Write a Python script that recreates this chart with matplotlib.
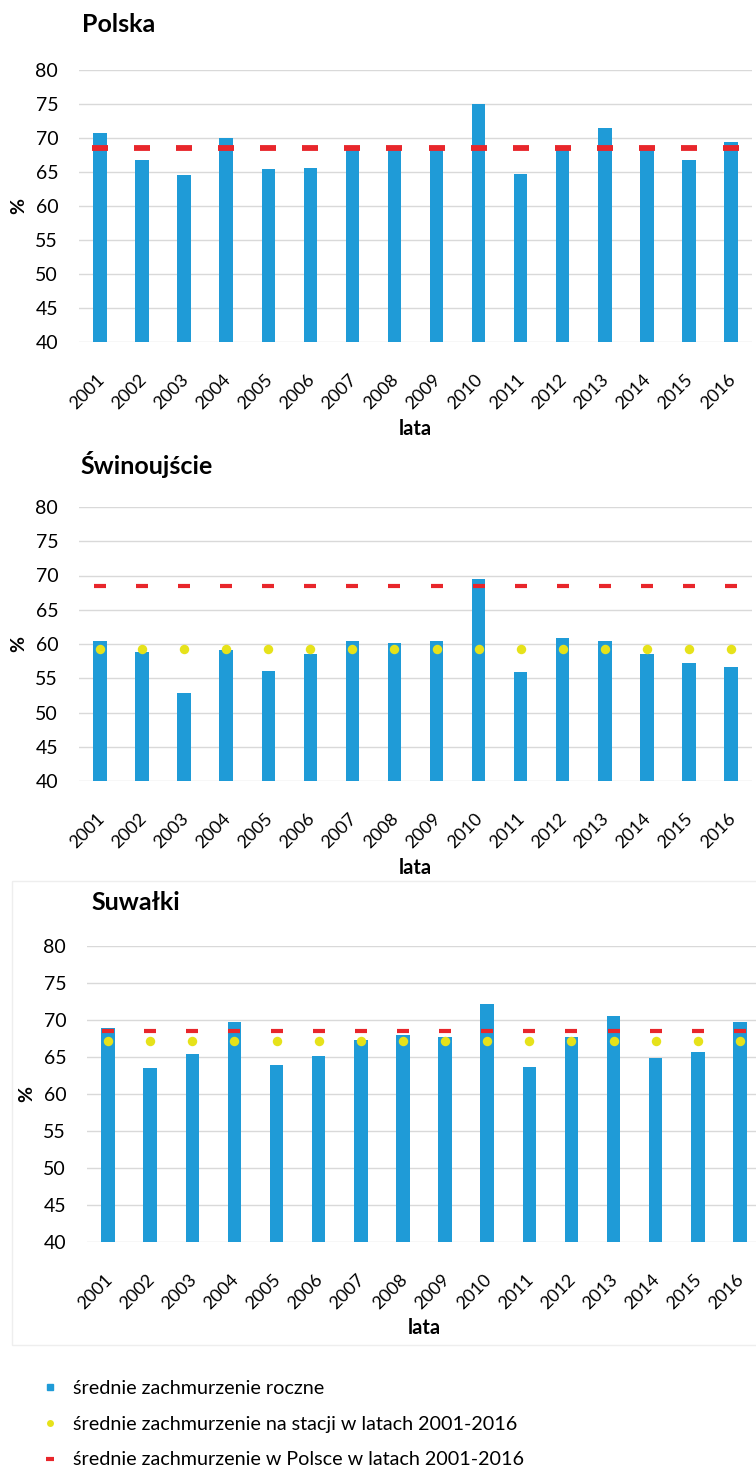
import numpy as np
import matplotlib
matplotlib.use("Agg")
import matplotlib.pyplot as plt
import matplotlib.transforms as mtransforms
from matplotlib.lines import Line2D
from matplotlib.patches import Rectangle

plt.rcParams['font.family'] = ['Lato', 'DejaVu Sans']

lata = [str(r) for r in range(2001, 2017)]

# srednie zachmurzenie roczne (%)
polska = [70.8, 66.7, 64.6, 70.0, 65.5, 65.6, 68.6, 68.7, 68.4, 75.0, 64.7, 68.5, 71.4, 68.3, 66.8, 69.4]
swinoujscie = [60.4, 58.8, 52.9, 59.1, 56.0, 58.5, 60.4, 60.1, 60.5, 69.5, 55.9, 60.9, 60.5, 58.5, 57.2, 56.7]
suwalki = [68.9, 63.55, 65.4, 69.7, 63.9, 65.2, 67.3, 68.0, 67.7, 72.1, 63.6, 67.7, 70.5, 64.8, 65.7, 69.75]

srednia_polska = 68.5
srednia_swinoujscie = 59.2
srednia_suwalki = 67.1

NIEBIESKI = '#1f9bd7'
CZERWONY = '#e8262b'
ZOLTY = '#e6e21a'

W, H = 756, 1469
fig = plt.figure(figsize=(W / 100, H / 100), dpi=100)


def px_axes(left, right, top, bottom):
    return fig.add_axes([left / W, 1 - bottom / H, (right - left) / W, (bottom - top) / H])


def wykres(ax, dane, srednia_stacji, red_ms, red_mew):
    x = np.arange(len(lata))
    ax.bar(x, np.array(dane) - 40, bottom=40, width=0.32, color=NIEBIESKI, zorder=2)
    ax.plot(x, [srednia_polska] * len(lata), ls='none', marker='_', ms=red_ms,
            mew=red_mew, color=CZERWONY, zorder=4)
    if srednia_stacji is not None:
        ax.plot(x, [srednia_stacji] * len(lata), ls='none', marker='o', ms=6.8,
                mec='none', color=ZOLTY, zorder=3)
    ax.set_xlim(-0.5, len(lata) - 0.5)
    ax.set_ylim(40, 80)
    ax.set_yticks(range(40, 81, 5))
    ax.set_xticks(x)
    ax.set_xticklabels(lata, rotation=45, ha='right', rotation_mode='anchor')
    ax.tick_params(axis='both', length=0)
    ax.tick_params(axis='y', pad=15, labelsize=14)
    ax.tick_params(axis='x', pad=21, labelsize=13)
    przesun = mtransforms.ScaledTranslation(-4 / 100, 0, fig.dpi_scale_trans)
    for t in ax.get_xticklabels():
        t.set_transform(t.get_transform() + przesun)
    ax.grid(axis='y', color='#d9d9d9', lw=1)
    ax.set_axisbelow(True)
    for s in ax.spines.values():
        s.set_visible(False)
    ax.set_ylabel('%', fontsize=14, fontweight='bold', labelpad=6)


# ramka wokol trzeciego wykresu
fig.patches.append(Rectangle((12 / W, 1 - 1345 / H), (W - 12) / W + 0.01, (1345 - 881) / H,
                             transform=fig.transFigure, fill=False, ec='#eeeeee', lw=1))

ax1 = px_axes(79, 752, 70, 342)
wykres(ax1, polska, None, 11, 4.2)
ax2 = px_axes(79, 752, 507, 781)
wykres(ax2, swinoujscie, srednia_swinoujscie, 8, 3.0)
ax3 = px_axes(87, 761, 946, 1242)
wykres(ax3, suwalki, srednia_suwalki, 8.5, 3.0)

fig.text(82 / W, 1 - 25 / H, 'Polska', fontsize=18, fontweight='bold', va='center')
fig.text(80 / W, 1 - 465 / H, 'Świnoujście', fontsize=18, fontweight='bold', va='center')
fig.text(91 / W, 1 - 903 / H, 'Suwałki', fontsize=18, fontweight='bold', va='center')

fig.text(415 / W, 1 - 429 / H, 'lata', fontsize=14.5, fontweight='bold', ha='center', va='center')
fig.text(415 / W, 1 - 868 / H, 'lata', fontsize=14.5, fontweight='bold', ha='center', va='center')
fig.text(424 / W, 1 - 1328 / H, 'lata', fontsize=14.5, fontweight='bold', ha='center', va='center')

uchwyty = [
    Line2D([], [], ls='none', marker='s', ms=5, color=NIEBIESKI),
    Line2D([], [], ls='none', marker='o', ms=5, mec='none', color=ZOLTY),
    Line2D([], [], ls='none', marker='_', ms=6, mew=3, color=CZERWONY),
]
etykiety = [
    'średnie zachmurzenie roczne',
    'średnie zachmurzenie na stacji w latach 2001-2016',
    'średnie zachmurzenie w Polsce w latach 2001-2016',
]
fig.legend(uchwyty, etykiety, loc='upper left', bbox_to_anchor=(43 / W, 1 - 1380 / H),
           frameon=False, fontsize=14.2, handlelength=0.7, handletextpad=0.8,
           labelspacing=0.95, borderpad=0, borderaxespad=0)

fig.savefig('out.png', dpi=100)
